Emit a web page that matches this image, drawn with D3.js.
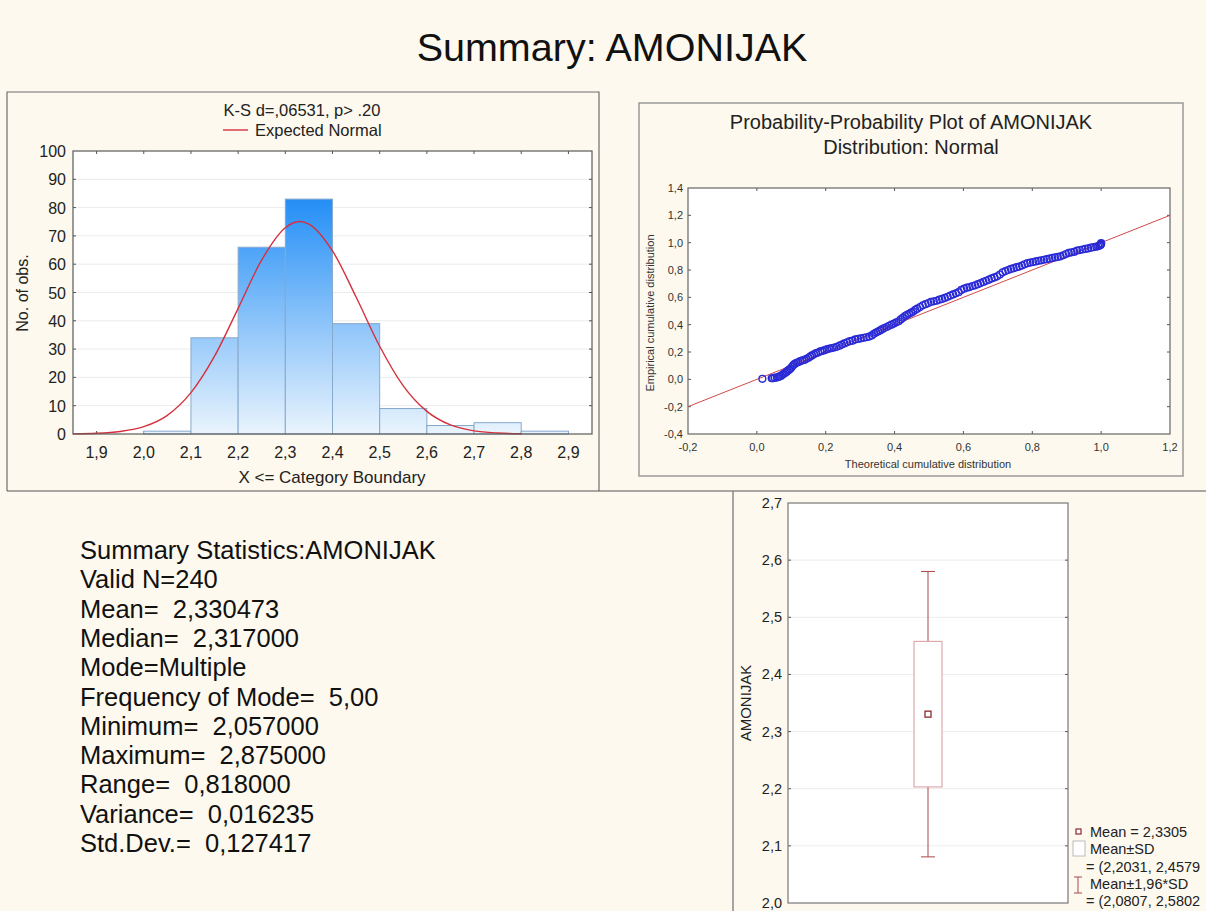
<!DOCTYPE html>
<html><head><meta charset="utf-8">
<script src="https://cdn.jsdelivr.net/npm/d3@7/dist/d3.min.js"></script>
<style>
html,body{margin:0;padding:0;background:#fdf9ee;}
svg{display:block;font-family:"Liberation Sans",Arial,sans-serif;}
</style></head>
<body>
<svg id="chart" width="1206" height="911"></svg>
<script>
// ---------- data ----------
const pageTitle = "Summary: AMONIJAK";
const histBinStart = [2.0, 2.1, 2.2, 2.3, 2.4, 2.5, 2.6, 2.7, 2.8];
const histCounts   = [1, 34, 66, 83, 39, 9, 3, 4, 1];
const histXTicks = [1.9, 2.0, 2.1, 2.2, 2.3, 2.4, 2.5, 2.6, 2.7, 2.8, 2.9];
const histYTicks = [0, 10, 20, 30, 40, 50, 60, 70, 80, 90, 100];
const normalX = [1.85, 1.9, 1.95, 2.0, 2.05, 2.1, 2.15, 2.2, 2.25, 2.3, 2.33, 2.35, 2.4, 2.45, 2.5, 2.55, 2.6, 2.65, 2.7, 2.75, 2.8];
const normalY = [0.06, 0.25, 0.9, 2.6, 6.6, 14.6, 27.5, 44.4, 61.5, 72.9, 75.1, 74.2, 64.7, 48.4, 31.0, 17.0, 8.0, 3.2, 1.1, 0.33, 0.08];
const histHeader = "K-S d=,06531, p> .20";
const histLegend = "Expected Normal";

const ppTheoretical = [0.016,0.043,0.047,0.052,0.058,0.062,0.066,0.070,0.074,0.078,0.082,0.086,0.090,0.094,0.098,0.102,0.106,0.110,0.115,0.120,0.126,0.132,0.138,0.144,0.150,0.155,0.160,0.166,0.172,0.178,0.184,0.190,0.197,0.204,0.211,0.218,0.225,0.232,0.240,0.247,0.254,0.262,0.270,0.278,0.286,0.294,0.302,0.310,0.318,0.326,0.334,0.340,0.346,0.352,0.358,0.364,0.370,0.377,0.384,0.391,0.398,0.405,0.412,0.418,0.424,0.430,0.436,0.442,0.448,0.454,0.460,0.466,0.474,0.482,0.490,0.498,0.506,0.514,0.522,0.530,0.538,0.546,0.554,0.562,0.570,0.578,0.586,0.594,0.602,0.610,0.618,0.626,0.634,0.642,0.650,0.658,0.666,0.674,0.682,0.690,0.698,0.706,0.714,0.722,0.730,0.738,0.746,0.754,0.762,0.770,0.778,0.786,0.794,0.802,0.810,0.818,0.826,0.834,0.842,0.850,0.858,0.866,0.874,0.882,0.890,0.898,0.906,0.914,0.922,0.930,0.938,0.946,0.954,0.962,0.970,0.978,0.986,0.992,0.996,0.998,0.999,1.000,1.000];
const ppEmpirical   = [0.004,0.008,0.008,0.012,0.013,0.017,0.021,0.025,0.033,0.040,0.046,0.054,0.063,0.071,0.079,0.092,0.104,0.113,0.121,0.125,0.133,0.138,0.142,0.150,0.158,0.167,0.175,0.183,0.192,0.196,0.204,0.208,0.213,0.221,0.225,0.229,0.233,0.238,0.246,0.254,0.263,0.271,0.279,0.283,0.292,0.296,0.300,0.304,0.308,0.313,0.321,0.333,0.342,0.350,0.358,0.367,0.375,0.383,0.392,0.400,0.408,0.417,0.425,0.438,0.450,0.463,0.471,0.479,0.488,0.496,0.508,0.517,0.529,0.542,0.550,0.558,0.567,0.571,0.575,0.583,0.588,0.596,0.604,0.613,0.621,0.629,0.638,0.654,0.663,0.671,0.675,0.683,0.688,0.696,0.704,0.713,0.721,0.729,0.738,0.746,0.754,0.767,0.783,0.792,0.800,0.808,0.813,0.821,0.825,0.833,0.842,0.850,0.854,0.858,0.863,0.867,0.871,0.875,0.879,0.883,0.888,0.892,0.896,0.900,0.908,0.917,0.925,0.929,0.933,0.942,0.946,0.950,0.954,0.958,0.963,0.967,0.971,0.975,0.979,0.983,0.988,0.992,0.996,1.000];
const ppLine = [-0.2, 1.2];
const ppXTicks = [-0.2, 0.0, 0.2, 0.4, 0.6, 0.8, 1.0, 1.2];
const ppYTicks = [-0.4, -0.2, 0.0, 0.2, 0.4, 0.6, 0.8, 1.0, 1.2, 1.4];
const ppTitle = ["Probability-Probability Plot of AMONIJAK", "Distribution: Normal"];
const ppXLabel = "Theoretical cumulative distribution";
const ppYLabel = "Empirical cumulative distribution";

const summaryLines = ["Summary Statistics:AMONIJAK","Valid N=240","Mean=  2,330473","Median=  2,317000","Mode=Multiple","Frequency of Mode=  5,00","Minimum=  2,057000","Maximum=  2,875000","Range=  0,818000","Variance=  0,016235","Std.Dev.=  0,127417"];

const boxMean = 2.3305;
const boxSD = [2.2031, 2.4579];
const boxCI = [2.0807, 2.5802];
const boxYTicks = [2.0, 2.1, 2.2, 2.3, 2.4, 2.5, 2.6, 2.7];
const boxLegend = ["Mean = 2,3305", "Mean±SD", "= (2,2031, 2,4579", "Mean±1,96*SD", "= (2,0807, 2,5802"];

// ---------- helpers ----------
const loc = d3.formatLocale({decimal: ",", thousands: ".", grouping: [3], currency: ["", ""], minus: "-"});
const f1 = loc.format(".1f");
const svg = d3.select("#chart");
const BG = "#fdf9ee";
svg.append("rect").attr("width", 1206).attr("height", 911).attr("fill", BG);

// page title
svg.append("text").attr("x", 612).attr("y", 61).attr("text-anchor", "middle")
  .attr("font-size", 39.5).attr("fill", "#111").text(pageTitle);

// panel frames
svg.append("path").attr("d", "M7,491 L7,92 L599,92 L599,491").attr("fill", "none").attr("stroke", "#6e6e6e").attr("stroke-width", 1.2);
svg.append("line").attr("x1", 7).attr("x2", 1206).attr("y1", 491).attr("y2", 491).attr("stroke", "#555").attr("stroke-width", 1.2);
svg.append("rect").attr("x", 639).attr("y", 103).attr("width", 544).attr("height", 373).attr("fill", "none").attr("stroke", "#999").attr("stroke-width", 1.5);
svg.append("line").attr("x1", 733).attr("x2", 733).attr("y1", 491).attr("y2", 911).attr("stroke", "#888").attr("stroke-width", 1.5);

function innerTicks(g, x0, x1, y0, y1, xs, ys, xScale, yScale, len, gridY, gridColor) {
  if (gridY) {
    g.selectAll(null).data(ys).enter().append("line")
      .attr("x1", x0).attr("x2", x1).attr("y1", d => yScale(d)).attr("y2", d => yScale(d))
      .attr("stroke", gridColor).attr("stroke-width", 1);
  }
  xs.forEach(v => {
    const x = xScale(v);
    g.append("line").attr("x1", x).attr("x2", x).attr("y1", y0).attr("y2", y0 + len).attr("stroke", "#555");
    g.append("line").attr("x1", x).attr("x2", x).attr("y1", y1).attr("y2", y1 - len).attr("stroke", "#555");
  });
  ys.forEach(v => {
    const y = yScale(v);
    g.append("line").attr("x1", x0).attr("x2", x0 + len).attr("y1", y).attr("y2", y).attr("stroke", "#555");
    g.append("line").attr("x1", x1).attr("x2", x1 - len).attr("y1", y).attr("y2", y).attr("stroke", "#555");
  });
}

// ---------- histogram ----------
{
  const L = 73, R = 592, T = 151, B = 434;
  const x = d3.scaleLinear().domain([1.85, 2.95]).range([L, R]);
  const y = d3.scaleLinear().domain([0, 100]).range([B, T]);
  const g = svg.append("g");
  g.append("rect").attr("x", L).attr("y", T).attr("width", R - L).attr("height", B - T).attr("fill", "#fff");
  const defs = svg.append("defs");
  const grad = defs.append("linearGradient").attr("id", "barGrad").attr("gradientUnits", "userSpaceOnUse")
    .attr("x1", 0).attr("x2", 0).attr("y1", y(85)).attr("y2", y(0));
  grad.append("stop").attr("offset", 0).attr("stop-color", "#1f8cf6");
  grad.append("stop").attr("offset", 1).attr("stop-color", "#eaf4fd");
  innerTicks(g, L, R, T, B, histXTicks, histYTicks.slice(1, -1), x, y, 3, true, "#ececec");
  g.selectAll(".bar").data(histCounts).enter().append("rect")
    .attr("x", (d, i) => x(histBinStart[i]))
    .attr("width", (d, i) => x(histBinStart[i] + 0.1) - x(histBinStart[i]))
    .attr("y", d => y(d)).attr("height", d => y(0) - y(d))
    .attr("fill", "url(#barGrad)").attr("stroke", "#86a9cc").attr("stroke-width", 1);
  const line = d3.line().x(d => x(d[0])).y(d => y(d[1])).curve(d3.curveMonotoneX);
  g.append("path").datum(normalX.map((v, i) => [v, normalY[i]])).attr("d", line)
    .attr("fill", "none").attr("stroke", "#d6303c").attr("stroke-width", 1.4);
  g.append("rect").attr("x", L).attr("y", T).attr("width", R - L).attr("height", B - T).attr("fill", "none").attr("stroke", "#5a5a5a").attr("stroke-width", 1.2);
  g.selectAll(".xl").data(histXTicks).enter().append("text")
    .attr("x", d => x(d)).attr("y", 458).attr("text-anchor", "middle").attr("font-size", 16).attr("fill", "#222").text(d => f1(d));
  g.selectAll(".yl").data(histYTicks).enter().append("text")
    .attr("x", 66).attr("y", d => y(d) + 6).attr("text-anchor", "end").attr("font-size", 16).attr("fill", "#222").text(d => d);
  g.append("text").attr("x", 332).attr("y", 483).attr("text-anchor", "middle").attr("font-size", 17).attr("fill", "#222").text("X <= Category Boundary");
  g.append("text").attr("transform", "translate(28,293) rotate(-90)").attr("text-anchor", "middle").attr("font-size", 16).attr("fill", "#222").text("No. of obs.");
  g.append("text").attr("x", 302).attr("y", 116).attr("text-anchor", "middle").attr("font-size", 16.5).attr("fill", "#222").text(histHeader);
  g.append("line").attr("x1", 223).attr("x2", 248).attr("y1", 130).attr("y2", 130).attr("stroke", "#d6303c").attr("stroke-width", 1.4);
  g.append("text").attr("x", 255).attr("y", 136).attr("font-size", 16.5).attr("fill", "#222").text(histLegend);
}

// ---------- P-P plot ----------
{
  const L = 688, R = 1170, T = 188, B = 434;
  const x = d3.scaleLinear().domain([-0.2, 1.2]).range([L, R]);
  const y = d3.scaleLinear().domain([-0.4, 1.4]).range([B, T]);
  const g = svg.append("g");
  g.append("rect").attr("x", L).attr("y", T).attr("width", R - L).attr("height", B - T).attr("fill", "#fff");
  innerTicks(g, L, R, T, B, ppXTicks.slice(1, -1), ppYTicks.slice(1, -1), x, y, 3, false);
  g.append("line").attr("x1", x(ppLine[0])).attr("y1", y(ppLine[0])).attr("x2", x(ppLine[1])).attr("y2", y(ppLine[1]))
    .attr("stroke", "#d04a4a").attr("stroke-width", 1);
  g.selectAll(".pt").data(ppTheoretical).enter().append("circle")
    .attr("cx", d => x(d)).attr("cy", (d, i) => y(ppEmpirical[i])).attr("r", 3.4)
    .attr("fill", "none").attr("stroke", "#2a2ad6").attr("stroke-width", 1.4);
  g.append("rect").attr("x", L).attr("y", T).attr("width", R - L).attr("height", B - T).attr("fill", "none").attr("stroke", "#666").attr("stroke-width", 1.2);
  g.selectAll(".xl").data(ppXTicks).enter().append("text")
    .attr("x", d => x(d)).attr("y", 451).attr("text-anchor", "middle").attr("font-size", 11).attr("fill", "#333").text(d => f1(d));
  g.selectAll(".yl").data(ppYTicks).enter().append("text")
    .attr("x", 683).attr("y", d => y(d) + 4).attr("text-anchor", "end").attr("font-size", 11).attr("fill", "#333").text(d => f1(d));
  g.append("text").attr("x", 928).attr("y", 468).attr("text-anchor", "middle").attr("font-size", 11).attr("fill", "#333").text(ppXLabel);
  g.append("text").attr("transform", "translate(654,313) rotate(-90)").attr("text-anchor", "middle").attr("font-size", 11).attr("fill", "#333").text(ppYLabel);
  g.selectAll(".tt").data(ppTitle).enter().append("text")
    .attr("x", 911).attr("y", (d, i) => 129 + i * 25).attr("text-anchor", "middle").attr("font-size", 20).attr("fill", "#222").text(d => d);
}

// ---------- summary statistics ----------
svg.selectAll(".sl").data(summaryLines).enter().append("text")
  .attr("x", 80).attr("y", (d, i) => 559 + i * 29.3).attr("font-size", 25.5).attr("fill", "#111")
  .attr("xml:space", "preserve").style("white-space", "pre").text(d => d);

// ---------- box plot ----------
{
  const L = 788, R = 1068, T = 503, B = 903;
  const y = d3.scaleLinear().domain([2.0, 2.7]).range([B, T]);
  const cx = 928;
  const g = svg.append("g");
  g.append("rect").attr("x", L).attr("y", T).attr("width", R - L).attr("height", B - T).attr("fill", "#fff");
  g.selectAll(".gr").data(boxYTicks.slice(1, -1)).enter().append("line")
    .attr("x1", L).attr("x2", R).attr("y1", d => y(d)).attr("y2", d => y(d)).attr("stroke", "#ececec");
  boxYTicks.slice(1, -1).forEach(v => {
    g.append("line").attr("x1", L).attr("x2", L + 3).attr("y1", y(v)).attr("y2", y(v)).attr("stroke", "#555");
    g.append("line").attr("x1", R).attr("x2", R - 3).attr("y1", y(v)).attr("y2", y(v)).attr("stroke", "#555");
  });
  const wc = "#a8484c";
  g.append("line").attr("x1", cx).attr("x2", cx).attr("y1", y(boxCI[1])).attr("y2", y(boxSD[1])).attr("stroke", wc);
  g.append("line").attr("x1", cx).attr("x2", cx).attr("y1", y(boxSD[0])).attr("y2", y(boxCI[0])).attr("stroke", wc);
  [boxCI[0], boxCI[1]].forEach(v => g.append("line").attr("x1", cx - 7).attr("x2", cx + 7).attr("y1", y(v)).attr("y2", y(v)).attr("stroke", wc));
  g.append("rect").attr("x", cx - 14).attr("y", y(boxSD[1])).attr("width", 28).attr("height", y(boxSD[0]) - y(boxSD[1]))
    .attr("fill", "#fff").attr("stroke", "#d89a9e").attr("stroke-width", 1);
  g.append("rect").attr("x", cx - 3).attr("y", y(boxMean) - 3).attr("width", 6).attr("height", 6)
    .attr("fill", "#fff").attr("stroke", "#8a2a2e").attr("stroke-width", 1.3);
  g.append("rect").attr("x", L).attr("y", T).attr("width", R - L).attr("height", B - T).attr("fill", "none").attr("stroke", "#777").attr("stroke-width", 1.2);
  g.selectAll(".yl").data(boxYTicks).enter().append("text")
    .attr("x", 782).attr("y", d => y(d) + 5).attr("text-anchor", "end").attr("font-size", 14.5).attr("fill", "#222").text(d => f1(d));
  g.append("text").attr("transform", "translate(751,703) rotate(-90)").attr("text-anchor", "middle").attr("font-size", 15).attr("fill", "#222").text("AMONIJAK");
  g.append("rect").attr("x", 1076).attr("y", 829).attr("width", 5).attr("height", 5).attr("fill", "#fff").attr("stroke", "#8a2a2e").attr("stroke-width", 1.2);
  g.append("rect").attr("x", 1073).attr("y", 841).attr("width", 12).attr("height", 15).attr("fill", "#fff").attr("stroke", "#bbb");
  g.append("path").attr("d", "M1074,877 L1082,877 M1078,877 L1078,893 M1074,893 L1082,893").attr("stroke", wc).attr("fill", "none");
  const ly = [837, 854, 872, 889, 906];
  const lx = [1090, 1090, 1086, 1090, 1086];
  boxLegend.forEach((t, i) => g.append("text").attr("x", lx[i]).attr("y", ly[i]).attr("font-size", 14.5).attr("fill", "#222").text(t));
}
</script>
</body></html>
